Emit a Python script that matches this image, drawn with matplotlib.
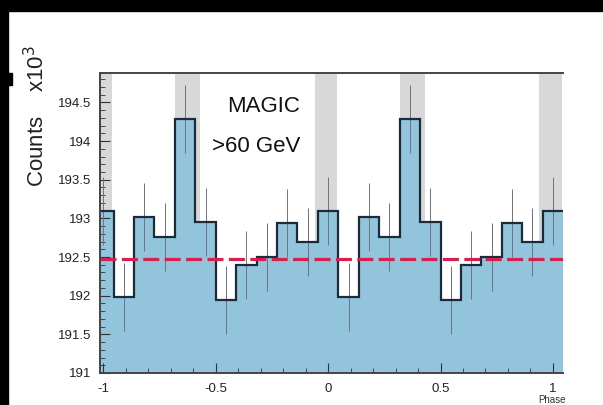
"""
MAGIC phaseogram (>60 GeV) - folded light curve, two periods shown.
"""
import numpy as np
import matplotlib
matplotlib.use("Agg")
import matplotlib.pyplot as plt
from matplotlib.patches import Rectangle
from matplotlib.ticker import MultipleLocator

# one period of the light curve, 11 bins (counts x 10^3)
period_counts = [193.09, 191.98, 193.02, 192.76, 194.28, 192.95,
                 191.94, 192.40, 192.50, 192.94, 192.69]
# phase -1 ... 1, bins centred on k/11
bin_centres = np.arange(-11, 12) / 11
counts = np.array(period_counts + period_counts + period_counts[:1])
errors = np.full(len(counts), 0.44)
background = 192.48

# signal regions P1 / P2 (repeated each period)
p1 = (-0.06, 0.04)
p2 = (0.32, 0.43)

xticks = [-1, -0.5, 0, 0.5, 1]
xticklabels = ["-1", "-0.5", "0", "0.5", "1"]
yticks = [191, 191.5, 192, 192.5, 193, 193.5, 194, 194.5]
yticklabels = ["191", "191.5", "192", "192.5", "193", "193.5", "194", "194.5"]

FONT = ["Liberation Sans", "DejaVu Sans"]

fig = plt.figure(figsize=(6.03, 4.05), dpi=100)
fig.patch.set_facecolor("white")
ax = fig.add_axes([100 / 603, 1 - 373 / 405, 463 / 603, 300 / 405])

# grey bands for pulse regions
for shift in (-1, 0, 1):
    for lo, hi in (p1, p2):
        ax.axvspan(lo + shift, hi + shift, color="#d8d8d8", lw=0, zorder=0)

half = (bin_centres[1] - bin_centres[0]) / 2
edges = np.append(bin_centres - half, bin_centres[-1] + half)
ax.stairs(counts, edges, fill=True, color="#92c4dc", zorder=1)
ax.stairs(counts, edges, baseline=None, color="#1c2b3a", lw=1.6, zorder=3)
ax.errorbar(bin_centres, counts, yerr=errors, fmt="none",
            ecolor="#707080", elinewidth=0.7, zorder=2)
ax.axhline(background, color="#d41f4f", lw=2.3, dashes=(5, 1.7), zorder=4)

ax.set_xlim(-1.015, 1.045)
ax.set_ylim(191, 194.88)

ax.set_xticks(xticks)
ax.set_xticklabels(xticklabels)
ax.set_yticks(yticks)
ax.set_yticklabels(yticklabels)
ax.xaxis.set_minor_locator(MultipleLocator(0.1))
ax.yaxis.set_minor_locator(MultipleLocator(0.1))
ax.tick_params(which="major", direction="in", length=7, width=0.8,
               color="#333333", labelsize=9.5)
ax.tick_params(which="minor", direction="in", length=3.5, width=0.6,
               color="#333333")
ax.tick_params(axis="y", pad=6)
ax.tick_params(axis="x", pad=7)
for lab in ax.get_xticklabels() + ax.get_yticklabels():
    lab.set_family(FONT)
    lab.set_color("#222222")

for side in ("left", "bottom", "top"):
    ax.spines[side].set_color("#444444")
    ax.spines[side].set_linewidth(1.4)
    ax.spines[side].set_zorder(5)
ax.spines["right"].set_visible(False)


# texts placed in figure pixels (y counted from the top)
def fig_text(x, y, s, **kw):
    fig.text(x / 603, 1 - y / 405, s, **kw)


fig_text(300, 106, "MAGIC", ha="right", va="center", fontsize=16,
         family=FONT, color="#111111")
fig_text(300, 146, ">60 GeV", ha="right", va="center", fontsize=16,
         family=FONT, color="#111111")
fig_text(37, 45, r"Counts    x10$^{3}$", rotation=90, ha="center", va="top",
         fontsize=16, family=FONT, color="#222222")
fig_text(566, 405, "Phase", ha="right", va="bottom", fontsize=7,
         family=FONT, color="#333333")

# black photo border
fig.patches.append(Rectangle((0, 1 - 11 / 405), 1, 11 / 405, transform=fig.transFigure,
                             color="black", zorder=10))
fig.patches.append(Rectangle((0, 0), 8 / 603, 1, transform=fig.transFigure,
                             color="black", zorder=10))
fig.patches.append(Rectangle((0, 1 - 85 / 405), 12 / 603, 12 / 405,
                             transform=fig.transFigure, color="black", zorder=10))

fig.savefig("out.png", dpi=100)
